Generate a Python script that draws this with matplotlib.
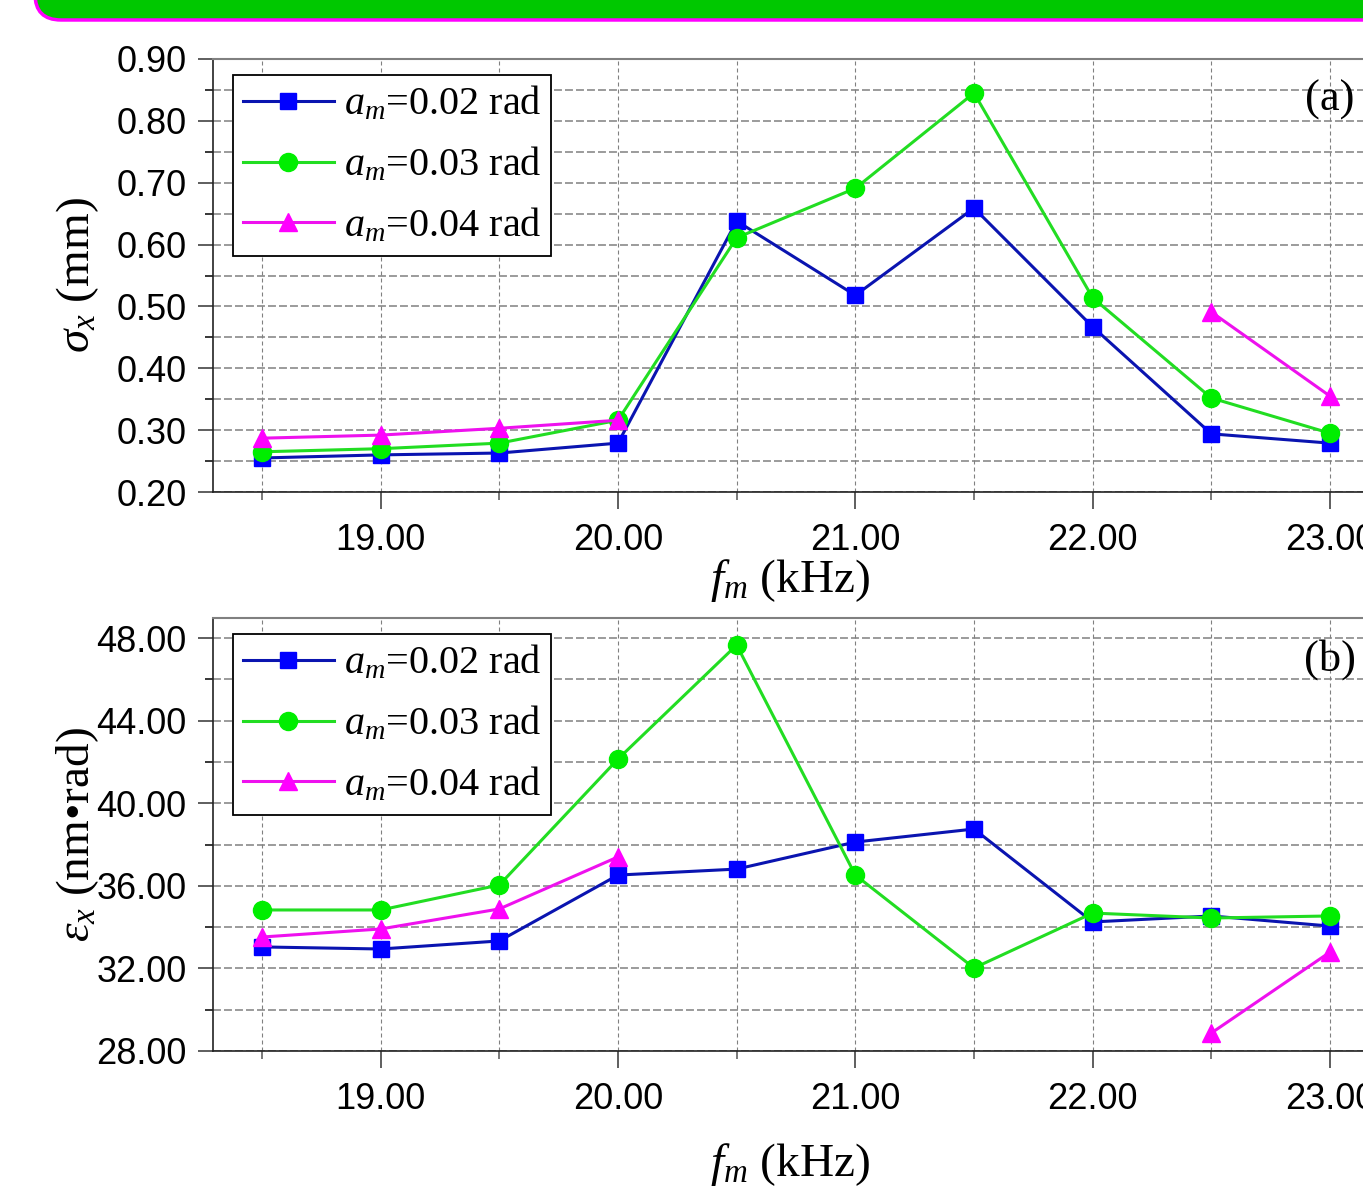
import numpy as np
import matplotlib
matplotlib.use("Agg")
import matplotlib.pyplot as plt
from matplotlib.patches import FancyBboxPatch
from matplotlib.ticker import MultipleLocator, FormatStrFormatter
from matplotlib.transforms import IdentityTransform

plt.rcParams['mathtext.fontset'] = 'custom'
plt.rcParams['mathtext.rm'] = 'Liberation Serif'
plt.rcParams['mathtext.it'] = 'Liberation Serif:italic'
plt.rcParams['font.family'] = 'Liberation Sans'

# modulation frequency (kHz)
freq = [18.5, 19.0, 19.5, 20.0, 20.5, 21.0, 21.5, 22.0, 22.5, 23.0]
labels = ["0.02", "0.03", "0.04"]

# (a) beam size sigma_x (mm)
sigma_002 = [0.255, 0.260, 0.263, 0.279, 0.638, 0.518, 0.659, 0.467, 0.294, 0.279]
sigma_003 = [0.265, 0.270, 0.279, 0.316, 0.611, 0.691, 0.845, 0.514, 0.352, 0.295]
sigma_004 = [0.287, 0.292, 0.303, 0.316, np.nan, np.nan, np.nan, np.nan, 0.491, 0.355]

# (b) emittance eps_x (nm rad)
eps_002 = [33.04, 32.94, 33.33, 36.52, 36.81, 38.12, 38.75, 34.25, 34.54, 34.05]
eps_003 = [34.83, 34.83, 36.04, 42.14, 47.66, 36.52, 32.02, 34.68, 34.44, 34.54]
eps_004 = [33.52, 33.91, 34.88, 37.40, np.nan, np.nan, np.nan, np.nan, 28.87, 32.79]

line_cols = ['#0A14B0', '#22DD22', '#EE11EE']
mark_cols = ['#0000FF', '#00EE00', '#FF00FF']
markers = ['s', 'o', '^']
msizes = [11.5, 13, 13]

W, H = 1363, 1197
fig = plt.figure(figsize=(W / 100, H / 100), dpi=100)

# green banner at the top
bar = FancyBboxPatch((35, H - 20), 1500, 80, boxstyle="round,pad=0,rounding_size=26",
                     facecolor='#00C800', edgecolor='#FF00FF', linewidth=2.5,
                     transform=IdentityTransform())
fig.patches.append(bar)


def make_axes(top_px, bottom_px):
    left = 213 / W
    width = (1379 - 213) / W
    return fig.add_axes([left, 1 - bottom_px / H, width, (bottom_px - top_px) / H])


def style_axes(ax, ymaj, ymin, fmt):
    ax.set_xlim(18.2935, 23.2065)
    ax.xaxis.set_major_locator(MultipleLocator(1.0))
    ax.xaxis.set_minor_locator(MultipleLocator(0.5))
    ax.yaxis.set_major_locator(MultipleLocator(ymaj))
    ax.yaxis.set_minor_locator(MultipleLocator(ymin))
    ax.xaxis.set_major_formatter(FormatStrFormatter('%.2f'))
    ax.yaxis.set_major_formatter(FormatStrFormatter(fmt))
    ax.tick_params(axis='both', which='major', labelsize=26, direction='out', color='#333333')
    ax.tick_params(axis='y', which='major', length=11, width=1.1, pad=8)
    ax.tick_params(axis='y', which='minor', length=5.5, width=1.1)
    ax.tick_params(axis='x', which='major', length=12, width=1.1, pad=10)
    ax.tick_params(axis='x', which='minor', length=6, width=1.1, color='#555555')
    ax.grid(True, which='both', axis='y', color='#808080', lw=1.1, linestyle=(0, (5.2, 2.0)))
    ax.grid(True, which='both', axis='x', color='#808080', lw=0.8, linestyle=(0, (3.6, 2.7)))
    ax.set_axisbelow(True)
    for s in ['top', 'right']:
        ax.spines[s].set_color('#808080')
        ax.spines[s].set_linewidth(1.5)
    for s in ['left', 'bottom']:
        ax.spines[s].set_color('#222222')
        ax.spines[s].set_linewidth(1.2)


def draw_series(ax, series):
    for i, ys in enumerate(series):
        ax.plot(freq, ys, color=line_cols[i], lw=2.2, marker=markers[i], ms=msizes[i],
                mfc=mark_cols[i], mec=mark_cols[i],
                label=r'$a_m$=' + labels[i] + ' rad')
    leg = ax.legend(loc='upper left', bbox_to_anchor=(0.0172, 0.963), borderaxespad=0,
                    fancybox=False, edgecolor='black', framealpha=1,
                    prop={'family': 'Liberation Serif', 'size': 29},
                    handlelength=2.25, handletextpad=0.25, labelspacing=0.55,
                    borderpad=0.25)
    leg.get_frame().set_linewidth(1.3)


# (a)
ax1 = make_axes(59, 492)
ax1.set_ylim(0.20, 0.90)
style_axes(ax1, 0.10, 0.05, '%.2f')
draw_series(ax1, [sigma_002, sigma_003, sigma_004])
ax1.text(23.0, 0.905, '(a)', transform=ax1.get_xaxis_transform(), ha='center', va='center',
         family='Liberation Serif', fontsize=32)

# (b)
ax2 = make_axes(618, 1051)
ax2.set_ylim(28.0, 48.97)
style_axes(ax2, 4.0, 2.0, '%.2f')
draw_series(ax2, [eps_002, eps_003, eps_004])
ax2.text(23.0, 0.905, '(b)', transform=ax2.get_xaxis_transform(), ha='center', va='center',
         family='Liberation Serif', fontsize=32)

# axis labels
lab_kw = dict(family='Liberation Serif', fontsize=34)
fig.text(790 / W, 1 - 580 / H, r'$f_m$ (kHz)', ha='center', va='center', **lab_kw)
fig.text(790 / W, 1 - 1165 / H, r'$f_m$ (kHz)', ha='center', va='center', **lab_kw)
fig.text(78 / W, 1 - 275 / H, r'$\sigma_x$ (mm)', ha='center', va='center', rotation=90, **lab_kw)
fig.text(78 / W, 1 - 835 / H, r'$\varepsilon_x$ (nm•rad)', ha='center', va='center', rotation=90, **lab_kw)

fig.savefig('out.png', dpi=100)
